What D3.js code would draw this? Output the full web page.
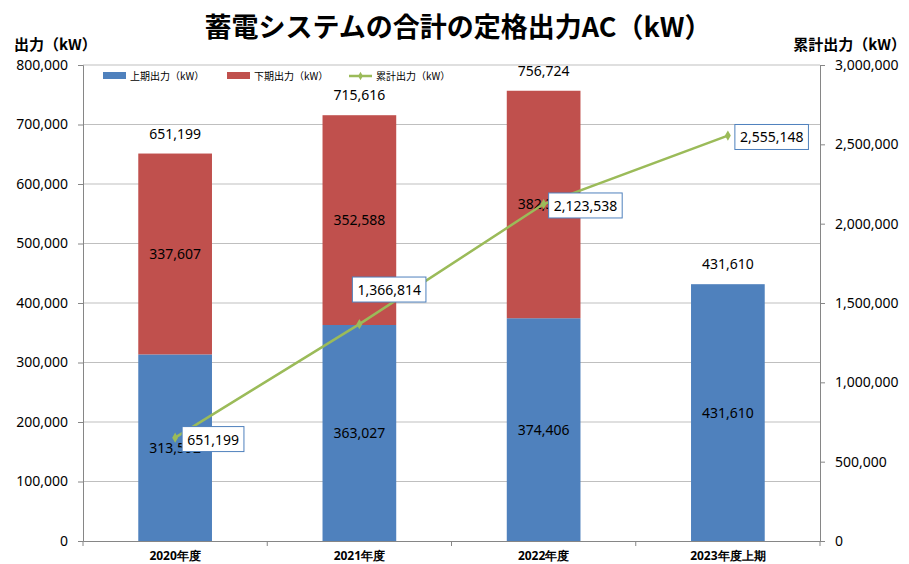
<!DOCTYPE html>
<html lang="ja">
<head>
<meta charset="UTF-8">
<title>蓄電システムの合計の定格出力AC（kW）</title>
<style>
    body { margin: 0; padding: 0; background: #fff; }
    svg { display: block; }
    .tick text { font-family: "Liberation Sans Narrow", "Noto Sans", sans-serif; font-size: 14px; fill: #000; }
    .lbl { font-family: "Noto Sans", sans-serif; font-size: 14px; fill: #000; text-anchor: middle; }
    .cjk { font-family: "Noto Sans CJK JP", sans-serif; }
</style>
</head>
<body>
<svg id="chart"></svg>
<script src="https://d3js.org/d3.v7.min.js"></script>
<script>
    var categories = ["2020年度", "2021年度", "2022年度", "2023年度上期"];
    var firstHalf = [313592, 363027, 374406, 431610];
    var secondHalf = [337607, 352588, 382318, 0];
    var totals = [651199, 715616, 756724, 431610];
    var cumulative = [651199, 1366814, 2123538, 2555148];
    var leftTicks = [0, 100000, 200000, 300000, 400000, 500000, 600000, 700000, 800000];
    var rightTicks = [0, 500000, 1000000, 1500000, 2000000, 2500000, 3000000];
    var seriesNames = ["上期出力（kW）", "下期出力（kW）", "累計出力（kW）"];

    var W = 909, H = 564;
    var margin = {top: 65, right: 89, bottom: 23, left: 83};
    var width = W - margin.left - margin.right,
        height = H - margin.top - margin.bottom;

    var fmt = d3.format(",");
    var blue = "#4f81bd", red = "#c0504d", green = "#9bbb59";

    var root = d3.select("#chart").attr("width", W).attr("height", H);

    // title and axis titles
    root.append("text").attr("class", "cjk")
        .attr("x", 458).attr("y", 37)
        .attr("text-anchor", "middle")
        .style("font-size", "27px").style("font-weight", "bold")
        .text("蓄電システムの合計の定格出力AC（kW）");
    root.append("text").attr("class", "cjk")
        .attr("x", 14).attr("y", 50)
        .style("font-size", "15px").style("font-weight", "bold")
        .text("出力（kW）");
    root.append("text").attr("class", "cjk")
        .attr("x", 906).attr("y", 50)
        .attr("text-anchor", "end")
        .style("font-size", "15px").style("font-weight", "bold")
        .text("累計出力（kW）");

    var svg = root.append("g")
        .attr("transform", "translate(" + margin.left + "," + margin.top + ")");

    var x = d3.scaleBand().domain(categories).range([0, width]).padding(0);
    var barW = x.bandwidth() * 0.4;
    var y = d3.scaleLinear().domain([0, 800000]).range([height, 0]);
    var y2 = d3.scaleLinear().domain([0, 3000000]).range([height, 0]);

    // gridlines
    svg.append("g").selectAll("line")
        .data(leftTicks.slice(1))
        .enter().append("line")
        .attr("x1", 0).attr("x2", width)
        .attr("y1", function (d) { return y(d); })
        .attr("y2", function (d) { return y(d); })
        .attr("stroke", "#bfbfbf").attr("stroke-width", 1);

    // left axis
    var gl = svg.append("g")
        .call(d3.axisLeft(y).tickValues(leftTicks).tickFormat(fmt).tickSize(5).tickPadding(10));
    gl.select(".domain").attr("stroke", "#868686");
    gl.selectAll(".tick line").attr("stroke", "#868686");

    // right axis
    var gr = svg.append("g")
        .attr("transform", "translate(" + width + ",0)")
        .call(d3.axisRight(y2).tickValues(rightTicks).tickFormat(fmt).tickSize(5).tickPadding(10));
    gr.select(".domain").attr("stroke", "#868686");
    gr.selectAll(".tick line").attr("stroke", "#868686");

    // bottom axis
    var gb = svg.append("g")
        .attr("transform", "translate(0," + height + ")")
        .call(d3.axisBottom(x).tickSize(0).tickPadding(10));
    gb.select(".domain").attr("stroke", "#868686");
    gb.selectAll(".tick text")
        .attr("class", "cjk")
        .style("font-size", "12px").style("font-weight", "bold");
    svg.append("g").selectAll("line")
        .data(d3.range(categories.length + 1))
        .enter().append("line")
        .attr("x1", function (i) { return i * x.step(); })
        .attr("x2", function (i) { return i * x.step(); })
        .attr("y1", height).attr("y2", height + 5)
        .attr("stroke", "#868686");

    // stacked bars
    var rows = categories.map(function (c, i) {
        return {cat: c, a: firstHalf[i], b: secondHalf[i], total: totals[i], cum: cumulative[i]};
    });
    var cx = function (d) { return x(d.cat) + x.bandwidth() / 2; };

    svg.selectAll(".barA").data(rows).enter().append("rect")
        .attr("x", function (d) { return cx(d) - barW / 2; })
        .attr("width", barW)
        .attr("y", function (d) { return y(d.a); })
        .attr("height", function (d) { return height - y(d.a); })
        .attr("fill", blue);

    svg.selectAll(".barB").data(rows.filter(function (d) { return d.b > 0; })).enter().append("rect")
        .attr("x", function (d) { return cx(d) - barW / 2; })
        .attr("width", barW)
        .attr("y", function (d) { return y(d.a + d.b); })
        .attr("height", function (d) { return y(d.a) - y(d.a + d.b); })
        .attr("fill", red);

    // segment labels
    svg.selectAll(".labA").data(rows).enter().append("text")
        .attr("class", "lbl")
        .attr("x", cx)
        .attr("y", function (d) { return y(d.a / 2) + 5; })
        .text(function (d) { return fmt(d.a); });
    svg.selectAll(".labB").data(rows.filter(function (d) { return d.b > 0; })).enter().append("text")
        .attr("class", "lbl")
        .attr("x", cx)
        .attr("y", function (d) { return y(d.a + d.b / 2) + 5; })
        .text(function (d) { return fmt(d.b); });
    svg.selectAll(".labT").data(rows).enter().append("text")
        .attr("class", "lbl")
        .attr("x", cx)
        .attr("y", function (d) { return y(d.total) - 15; })
        .text(function (d) { return fmt(d.total); });

    // cumulative line
    var line = d3.line()
        .x(cx)
        .y(function (d) { return y2(d.cum); });
    svg.append("path").datum(rows)
        .attr("d", line)
        .attr("fill", "none")
        .attr("stroke", green)
        .attr("stroke-width", 2.5);
    svg.selectAll(".mk").data(rows).enter().append("path")
        .attr("transform", function (d) { return "translate(" + cx(d) + "," + y2(d.cum) + ")"; })
        .attr("d", d3.symbol().type(d3.symbolDiamond).size(30))
        .attr("fill", green);

    // boxed labels for the cumulative line
    var offsets = [[7, 2], [-7, -34], [5, 2], [7, 2]];
    rows.forEach(function (d, i) {
        var px = cx(d) + offsets[i][0], py = y2(d.cum) + offsets[i][1];
        var g = svg.append("g").attr("transform", "translate(" + px + "," + py + ")");
        var t = g.append("text").attr("class", "lbl")
            .style("text-anchor", "start")
            .attr("x", 5).attr("y", 0).attr("dy", "0.35em")
            .text(fmt(d.cum));
        var bb = t.node().getBBox();
        g.insert("rect", "text")
            .attr("x", 0).attr("y", bb.y - 3)
            .attr("width", bb.width + 10).attr("height", bb.height + 6)
            .attr("fill", "#fff").attr("stroke", blue).attr("stroke-width", 1);
    });

    // legend
    var legend = root.append("g").attr("transform", "translate(103,76)");
    var legX = [0, 124, 246];
    seriesNames.forEach(function (name, i) {
        var g = legend.append("g").attr("transform", "translate(" + legX[i] + ",0)");
        if (i < 2) {
            g.append("rect").attr("x", 0).attr("y", -4).attr("width", 23).attr("height", 7)
                .attr("fill", i === 0 ? blue : red);
        } else {
            g.append("line").attr("x1", 0).attr("x2", 23).attr("y1", 0).attr("y2", 0)
                .attr("stroke", green).attr("stroke-width", 2.5);
            g.append("path").attr("transform", "translate(11.5,0)")
                .attr("d", d3.symbol().type(d3.symbolDiamond).size(20))
                .attr("fill", green);
        }
        g.append("text").attr("class", "cjk")
            .attr("x", 27).attr("y", 0).attr("dy", "0.35em")
            .style("font-size", "10px")
            .text(name);
    });
</script>
</body>
</html>
